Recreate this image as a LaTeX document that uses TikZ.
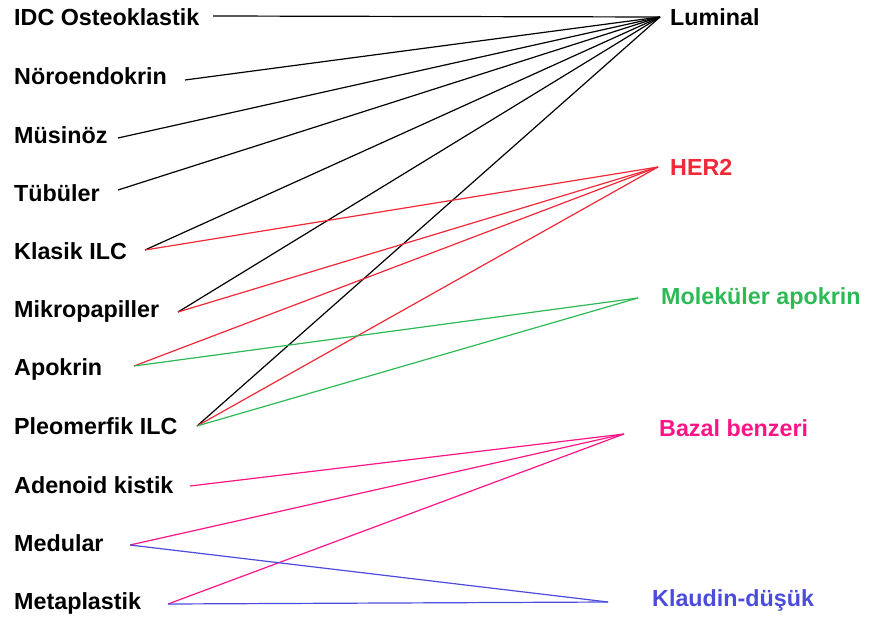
\documentclass[tikz,border=0pt]{standalone}
\usepackage{fontspec}
\setmainfont{Liberation Sans}
\usetikzlibrary{positioning}
\definecolor{hertwored}{RGB}{240,40,55}
\definecolor{apogreen}{RGB}{45,185,85}
\definecolor{bazalpink}{RGB}{255,20,135}
\definecolor{klaudinblue}{RGB}{75,75,220}

\begin{document}
\begin{tikzpicture}[
  x=1pt, y=-1pt,
  subtype/.style={anchor=base west, inner sep=0pt, font=\fontsize{23.3}{26}\selectfont\bfseries},
  group/.style={anchor=base west, inner sep=0pt, font=\fontsize{23.3}{26}\selectfont\bfseries},
  link/.style={line width=1.2pt}
]
\useasboundingbox (0,0) rectangle (877,621);

% Histological subtypes
\node[subtype] (idc) at (14,25) {IDC Osteoklastik};
\node[subtype] (noro) at (14,84) {Nöroendokrin};
\node[subtype] (musi) at (14,143) {Müsinöz};
\node[subtype] (tubu) at (14,201) {Tübüler};
\node[subtype] (klas) at (14,259) {Klasik ILC};
\node[subtype] (mikr) at (14,317) {Mikropapiller};
\node[subtype] (apok) at (14,375) {Apokrin};
\node[subtype] (pleo) at (14,434) {Pleomerfik ILC};
\node[subtype] (aden) at (14,493) {Adenoid kistik};
\node[subtype] (medu) at (14,551) {Medular};
\node[subtype] (meta) at (14,609) {Metaplastik};

% Molecular groups
\node[group] (lum) at (670,25) {Luminal};
\node[group, text=hertwored] (her) at (670,175) {HER2};
\node[group, text=apogreen] (mol) at (661,304) {Moleküler apokrin};
\node[group, text=bazalpink] (baz) at (659,436) {Bazal benzeri};
\node[group, text=klaudinblue] (kla) at (652,606) {Klaudin-düşük};

% Line ends
\coordinate (idc-e) at (213,16);
\coordinate (noro-e) at (185,80);
\coordinate (musi-e) at (118,138);
\coordinate (tubu-e) at (118,190);
\coordinate (klas-e) at (145,250);
\coordinate (mikr-e) at (178,312);
\coordinate (apok-e) at (134,366);
\coordinate (pleo-e) at (197,426);
\coordinate (aden-e) at (190,486);
\coordinate (medu-e) at (130,545);
\coordinate (meta-e) at (168,604);

\coordinate (lum-e) at (660,17);
\coordinate (her-e) at (658,167);
\coordinate (mol-e) at (638,298);
\coordinate (baz-e) at (624,434);
\coordinate (kla-e) at (608,602);

% Luminal
\draw[link] (idc-e) -- (lum-e);
\draw[link] (noro-e) -- (lum-e);
\draw[link] (musi-e) -- (lum-e);
\draw[link] (tubu-e) -- (lum-e);
\draw[link] (klas-e) -- (lum-e);
\draw[link] (mikr-e) -- (lum-e);
\draw[link] (pleo-e) -- (lum-e);

% HER2
\draw[link, hertwored] (klas-e) -- (her-e);
\draw[link, hertwored] (mikr-e) -- (her-e);
\draw[link, hertwored] (apok-e) -- (her-e);
\draw[link, hertwored] (pleo-e) -- (her-e);

% Molecular apocrine
\draw[link, apogreen] (apok-e) -- (mol-e);
\draw[link, apogreen] (pleo-e) -- (mol-e);

% Basal-like
\draw[link, bazalpink] (aden-e) -- (baz-e);
\draw[link, bazalpink] (medu-e) -- (baz-e);
\draw[link, bazalpink] (meta-e) -- (baz-e);

% Claudin-low
\draw[link, klaudinblue] (medu-e) -- (kla-e);
\draw[link, klaudinblue] (meta-e) -- (kla-e);

\end{tikzpicture}
\end{document}
